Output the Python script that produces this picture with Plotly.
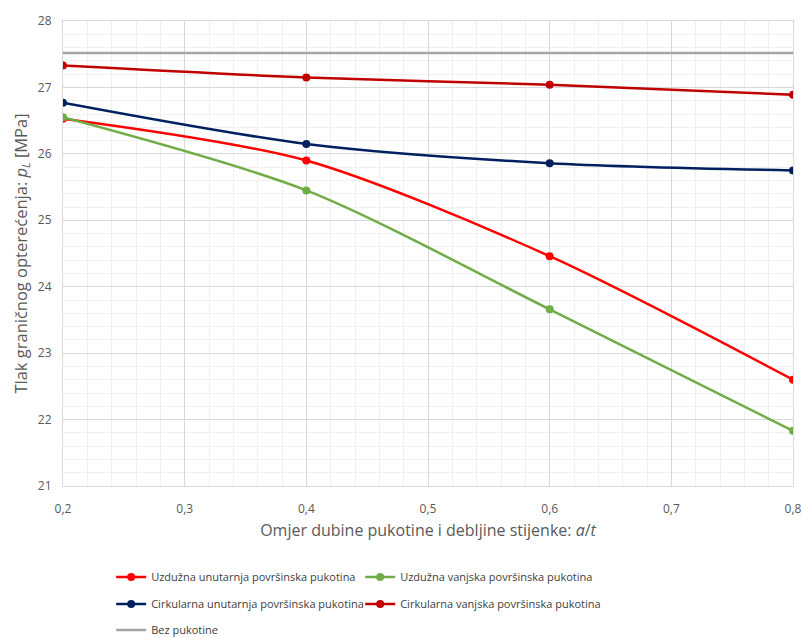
import plotly.graph_objects as go

x_vals = [0.2, 0.4, 0.6, 0.8]
uzd_unut = [26.53, 25.90, 24.46, 22.60]
uzd_vanj = [26.55, 25.45, 23.66, 21.83]
cirk_unut = [26.77, 26.15, 25.86, 25.75]
cirk_vanj = [27.33, 27.15, 27.04, 26.89]
bez_puk = [27.52, 27.52, 27.52, 27.52]

x_ticks = [0.2, 0.3, 0.4, 0.5, 0.6, 0.7, 0.8]
x_tick_labels = ["0,2", "0,3", "0,4", "0,5", "0,6", "0,7", "0,8"]

names = [
    "Uzdužna unutarnja površinska pukotina",
    "Uzdužna vanjska površinska pukotina",
    "Cirkularna unutarnja površinska pukotina",
    "Cirkularna vanjska površinska pukotina",
    "Bez pukotine",
]
colors = ["#FF0000", "#70AD47", "#002060", "#C00000", "#A5A5A5"]
series = [uzd_unut, uzd_vanj, cirk_unut, cirk_vanj, bez_puk]
legend_ids = ["legend", "legend", "legend2", "legend2", "legend3"]

font_fam = "Open Sans, Liberation Sans, sans-serif"

fig = go.Figure()
for i, (n, c, s, lg) in enumerate(zip(names, colors, series, legend_ids)):
    has_marker = i < 4
    fig.add_trace(go.Scatter(
        x=x_vals, y=s, name=n, legend=lg,
        mode="lines+markers" if has_marker else "lines",
        line=dict(color=c, width=2.5, shape="spline", smoothing=0.8),
        marker=dict(color=c, size=8),
    ))

leg_common = dict(
    orientation="h", x=0.066, xanchor="left", yref="container", yanchor="middle",
    entrywidth=204, entrywidthmode="pixels",
    font=dict(size=11, color="#404040"),
    bgcolor="rgba(0,0,0,0)",
)

fig.update_layout(
    width=801, height=637,
    margin=dict(l=63, r=8, t=21, b=151, autoexpand=False),
    paper_bgcolor="white", plot_bgcolor="white",
    font=dict(family=font_fam, color="#595959", size=12),
    showlegend=True,
    legend=dict(y=1 - 577 / 637, **leg_common),
    legend2=dict(y=1 - 604 / 637, **leg_common),
    legend3=dict(y=1 - 630 / 637, **leg_common),
    xaxis=dict(
        range=[0.2, 0.8], tickmode="array", tickvals=x_ticks, ticktext=x_tick_labels,
        showgrid=True, gridcolor="#D9D9D9", gridwidth=1,
        minor=dict(tickmode="linear", tick0=0.2, dtick=0.02, showgrid=True, gridcolor="#F0F0F0"),
        showline=True, linecolor="#D9D9D9", mirror=True,
        zeroline=False, ticks="", ticklabelstandoff=12, ticklabeloverflow="allow",
        tickfont=dict(size=12, color="#595959"),
        title=dict(text="Omjer dubine pukotine i debljine stijenke: <i>a</i>/<i>t</i>",
                   font=dict(size=16, color="#595959"), standoff=8),
    ),
    yaxis=dict(
        range=[21, 28], dtick=1,
        showgrid=True, gridcolor="#D9D9D9", gridwidth=1,
        minor=dict(dtick=0.2, showgrid=True, gridcolor="#F0F0F0"),
        showline=True, linecolor="#D9D9D9", mirror=True,
        zeroline=False, ticks="", ticklabelstandoff=8,
        tickfont=dict(size=12, color="#595959"),
        title=dict(text="Tlak graničnog opterećenja: <i>p</i><sub><i>L</i></sub> [MPa]",
                   font=dict(size=16.5, color="#595959"), standoff=6),
    ),
)

fig.write_html(
    "out.html",
    config={"displayModeBar": False},
    post_script="document.body.style.margin='0';document.body.style.overflow='hidden';",
)
